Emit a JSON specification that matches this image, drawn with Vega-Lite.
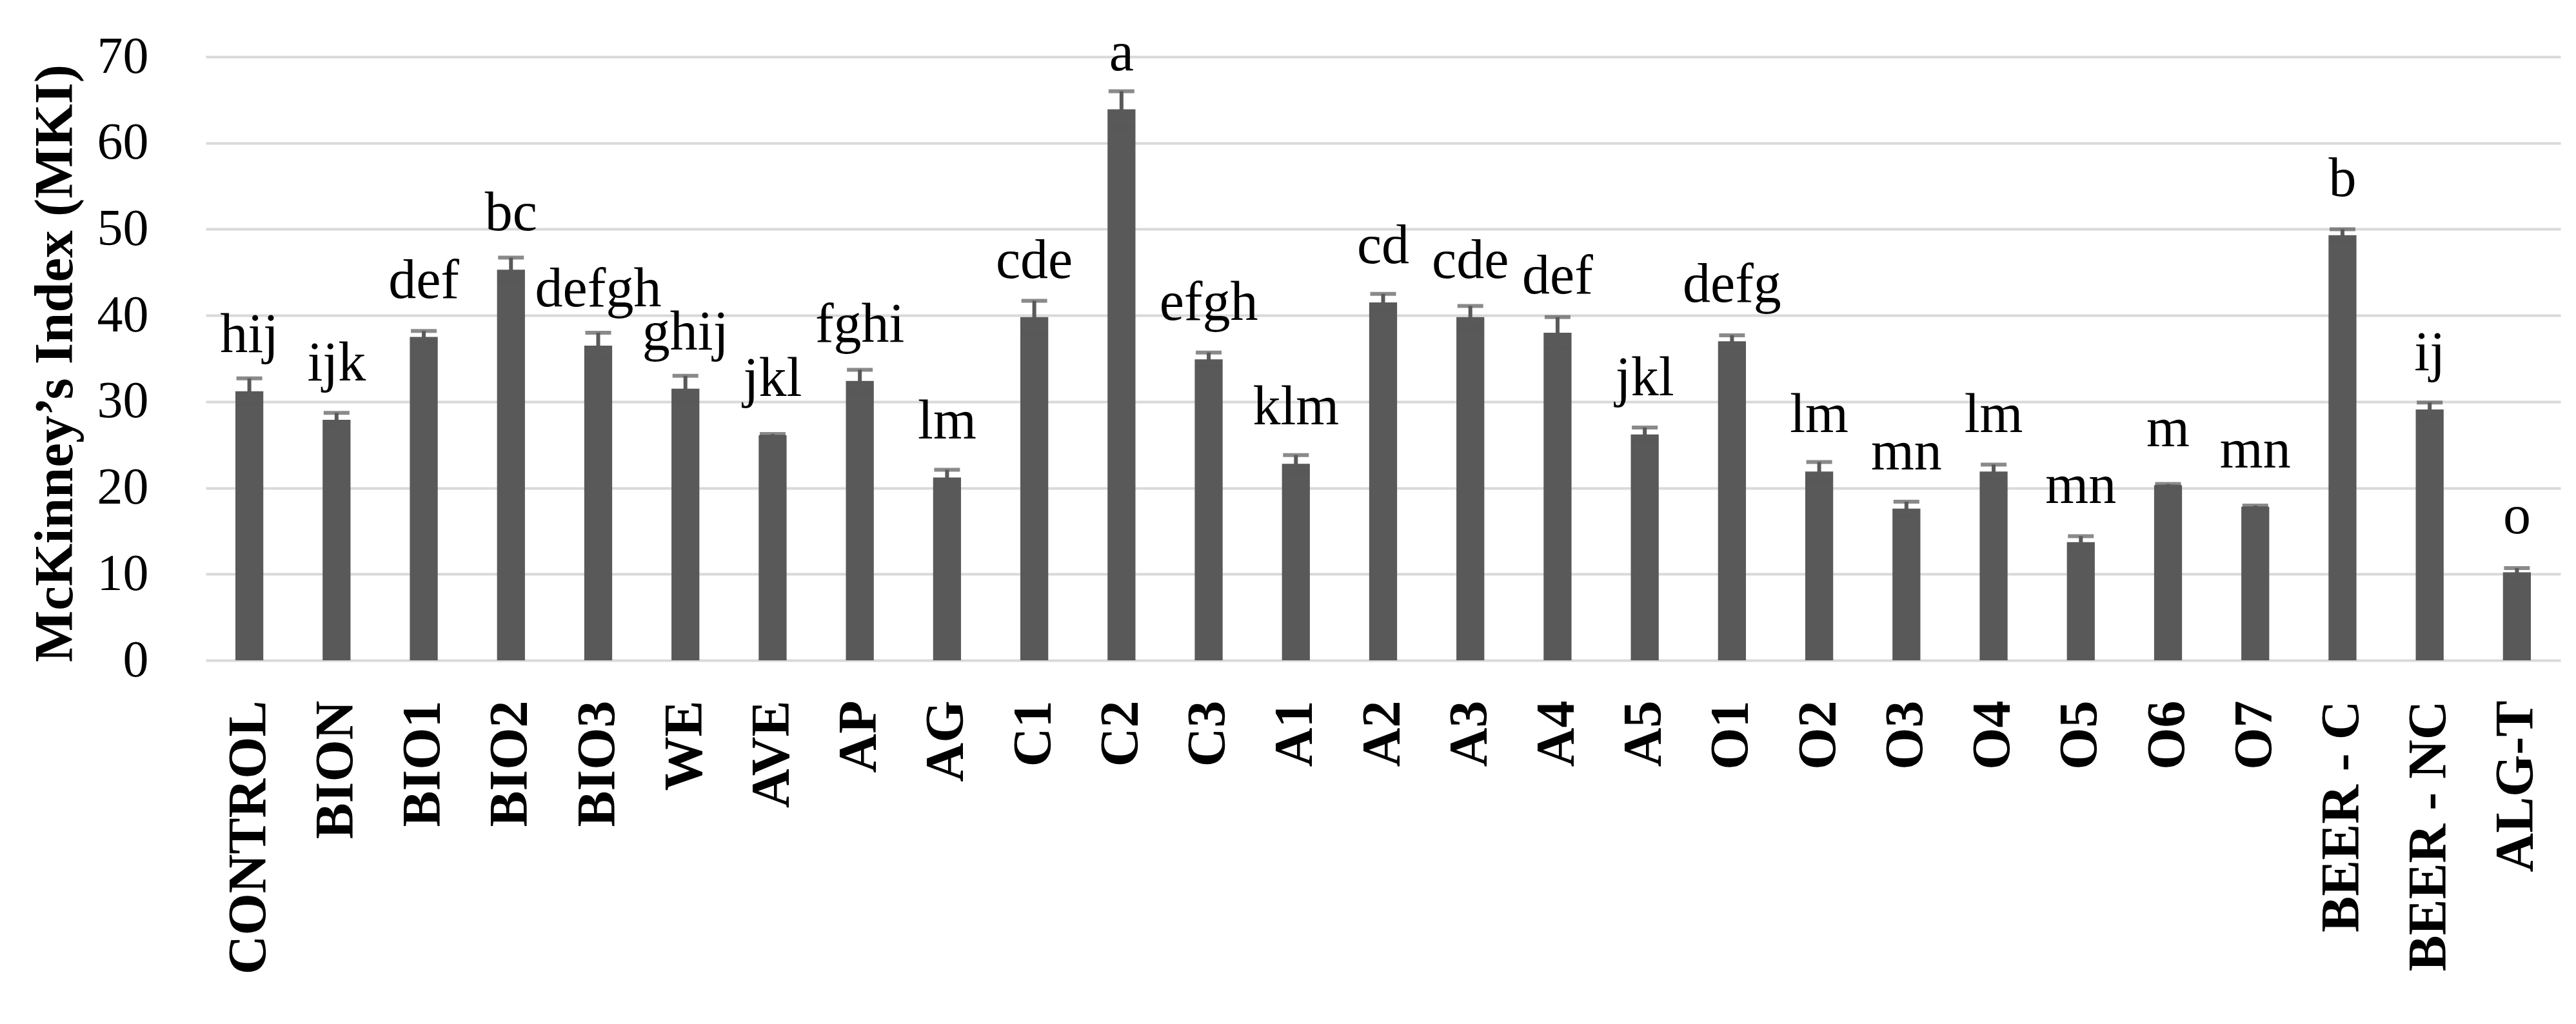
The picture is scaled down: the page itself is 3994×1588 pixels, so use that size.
{
  "$schema": "https://vega.github.io/schema/vega-lite/v6.json",
  "autosize": {"type": "none"},
  "width": 3651,
  "height": 936,
  "padding": {"left": 319, "top": 88, "right": 24, "bottom": 564},
  "background": "white",
  "config": {
    "view": {"stroke": null},
    "font": "Liberation Serif"
  },
  "data": {
    "values": [
      {"treatment": "CONTROL", "mki": 31.2, "err": 1.5, "group": "hij"},
      {"treatment": "BION", "mki": 27.9, "err": 0.8, "group": "ijk"},
      {"treatment": "BIO1", "mki": 37.5, "err": 0.7, "group": "def"},
      {"treatment": "BIO2", "mki": 45.3, "err": 1.4, "group": "bc"},
      {"treatment": "BIO3", "mki": 36.5, "err": 1.5, "group": "defgh"},
      {"treatment": "WE", "mki": 31.5, "err": 1.5, "group": "ghij"},
      {"treatment": "AVE", "mki": 26.1, "err": 0.15, "group": "jkl"},
      {"treatment": "AP", "mki": 32.4, "err": 1.3, "group": "fghi"},
      {"treatment": "AG", "mki": 21.2, "err": 0.9, "group": "lm"},
      {"treatment": "C1", "mki": 39.8, "err": 1.9, "group": "cde"},
      {"treatment": "C2", "mki": 63.9, "err": 2.1, "group": "a"},
      {"treatment": "C3", "mki": 34.9, "err": 0.8, "group": "efgh"},
      {"treatment": "A1", "mki": 22.8, "err": 1.0, "group": "klm"},
      {"treatment": "A2", "mki": 41.5, "err": 1.0, "group": "cd"},
      {"treatment": "A3", "mki": 39.8, "err": 1.3, "group": "cde"},
      {"treatment": "A4", "mki": 38.0, "err": 1.8, "group": "def"},
      {"treatment": "A5", "mki": 26.2, "err": 0.8, "group": "jkl"},
      {"treatment": "O1", "mki": 37.0, "err": 0.7, "group": "defg"},
      {"treatment": "O2", "mki": 21.9, "err": 1.1, "group": "lm"},
      {"treatment": "O3", "mki": 17.6, "err": 0.8, "group": "mn"},
      {"treatment": "O4", "mki": 21.9, "err": 0.8, "group": "lm"},
      {"treatment": "O5", "mki": 13.7, "err": 0.7, "group": "mn"},
      {"treatment": "O6", "mki": 20.3, "err": 0.15, "group": "m"},
      {"treatment": "O7", "mki": 17.8, "err": 0.15, "group": "mn"},
      {"treatment": "BEER - C", "mki": 49.3, "err": 0.7, "group": "b"},
      {"treatment": "BEER - NC", "mki": 29.1, "err": 0.8, "group": "ij"},
      {"treatment": "ALG-T", "mki": 10.2, "err": 0.5, "group": "o"}
    ]
  },
  "encoding": {
    "x": {
      "field": "treatment",
      "type": "nominal",
      "sort": null,
      "scale": {"paddingInner": 0.68, "paddingOuter": 0.34},
      "axis": {
        "title": null,
        "domain": false,
        "ticks": false,
        "labelAngle": 270,
        "labelAlign": "right",
        "labelBaseline": "middle",
        "labelPadding": 62,
        "labelLimit": 0,
        "labelFont": "Liberation Serif",
        "labelFontSize": 84,
        "labelFontWeight": "bold",
        "labelColor": "#000000"
      }
    },
    "y": {
      "field": "mki",
      "type": "quantitative",
      "scale": {"domain": [0, 70], "nice": false},
      "axis": {
        "title": "McKinney’s Index (MKI)",
        "titleFont": "Liberation Serif",
        "titleFontSize": 85,
        "titleFontWeight": "bold",
        "titleColor": "#000000",
        "titleAngle": 270,
        "titleBaseline": "bottom",
        "titleAlign": "center",
        "titleX": -190,
        "titleY": 475,
        "titleLimit": 0,
        "values": [0, 10, 20, 30, 40, 50, 60, 70],
        "domain": false,
        "ticks": false,
        "grid": true,
        "gridColor": "#d9d9d9",
        "gridWidth": 4,
        "labelFont": "Liberation Serif",
        "labelFontSize": 80,
        "labelColor": "#000000",
        "labelPadding": 89
      }
    }
  },
  "layer": [
    {
      "mark": {"type": "bar", "color": "#595959"}
    },
    {
      "mark": {
        "type": "errorbar",
        "color": "#595959",
        "thickness": 6,
        "ticks": {"size": 40, "thickness": 6, "color": "#595959"}
      },
      "encoding": {
        "yError": {"field": "err"}
      }
    },
    {
      "mark": {
        "type": "text",
        "font": "Liberation Serif",
        "fontSize": 86,
        "color": "#000000",
        "baseline": "alphabetic",
        "align": "center",
        "dy": -61
      },
      "encoding": {
        "text": {"field": "group"}
      }
    }
  ]
}
